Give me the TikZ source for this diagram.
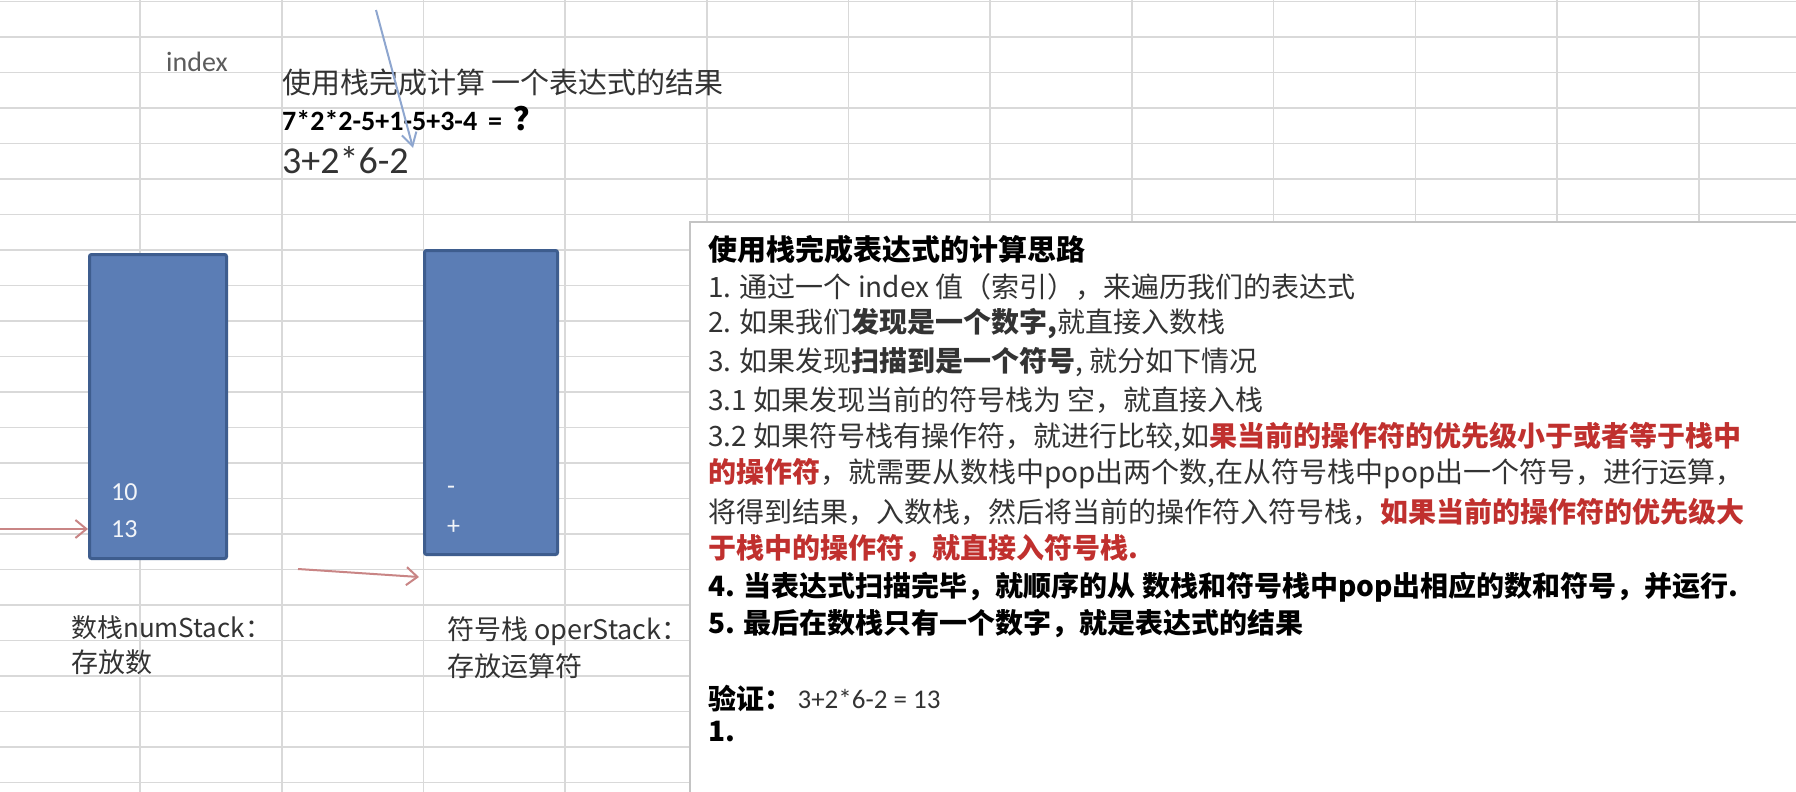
\documentclass[tikz,border=0pt]{standalone}
\usepackage{fontspec}
\setmainfont{Carlito}
\newfontfamily\cjk{Noto Sans CJK SC}
\usetikzlibrary{arrows.meta,positioning}

\definecolor{StkGrid}{HTML}{D9D9D9}
\definecolor{StkText}{HTML}{333333}
\definecolor{StkRed}{HTML}{C0302E}
\definecolor{StkFill}{HTML}{5B7DB5}
\definecolor{StkEdge}{HTML}{3E5D8E}
\definecolor{StkPink}{HTML}{C98585}
\definecolor{StkSky}{HTML}{8EA6CF}
\definecolor{StkFrame}{HTML}{C4C4C4}

\newcommand{\hot}[1]{\textcolor{StkRed}{\bfseries #1}}

\tikzset{
  stkGrid/.style={draw=StkGrid, line width=1.6pt},
  stkColumn/.style={
    rectangle, rounded corners=2pt, draw=StkEdge, fill=StkFill,
    line width=3pt, inner sep=0pt, minimum width=#1, minimum height=304pt
  },
  stkColumn/.default=137pt,
  stkNote/.style={
    rectangle, draw=StkFrame, fill=white, line width=1.5pt,
    anchor=north west, inner sep=0pt, minimum width=1200pt, minimum height=600pt
  },
  stkLine/.style={anchor=west, inner sep=0pt, text=StkText, font=\cjk\fontsize{28}{34}\selectfont},
  stkBold/.style={stkLine, text=black, font=\cjk\bfseries\fontsize{28}{34}\selectfont},
  stkLatin/.style={anchor=west, inner sep=0pt, text=StkText, font=\fontsize{#1}{#1}\selectfont},
  stkLatin/.default=28,
  stkItem/.style={anchor=west, inner sep=0pt, text=white!92!StkFill, font=\fontsize{26}{30}\selectfont},
  stkRed/.style={-{Straight Barb[length=11pt, width=18pt]}, draw=StkPink, line width=2pt},
  stkBlue/.style={-{Straight Barb[length=13pt, width=15pt]}, draw=StkSky, line width=2pt}
}

\begin{document}
\begin{tikzpicture}[x=1pt, y=-1pt]
  \clip (0,0) rectangle (1796,792);
  \fill[white] (0,0) rectangle (1796,792);

  % spreadsheet cells
  \foreach \gx in {140,281.7,...,1800} \draw[stkGrid] (\gx,0) -- (\gx,792);
  \foreach \gy in {1.5,37,...,795} \draw[stkGrid] (0,\gy) -- (1796,\gy);

  % expression on top
  \node[stkLatin, text=StkText!80] (index) at (166,62) {index};
  \node[stkLine, font=\cjk\fontsize{29}{34}\selectfont] (task) at (282,82) {使用栈完成计算 一个表达式的结果};
  \node[stkLatin=28, font=\bfseries\fontsize{28}{30}\selectfont, text=black] (expr) at (282,119) {7*2*2-5+1-5+3-4 \,=\, {\cjk\fontsize{32}{32}\selectfont ？}};
  \node[stkLatin=38] (sample) at (282,160) {3+2*6-2};

  % the two stacks
  \node[stkColumn] (numstack) at (158,406.5) {};
  \node[stkColumn=133pt] (operstack) at (491,402.5) {};
  \node[stkItem] (num10) at (111,492) {10};
  \node[stkItem] (num13) at (111,529) {13};
  \node[stkItem] (opminus) at (447,490) {-};
  \node[stkItem] (opplus) at (447,527) {+};

  \node[stkLine, font=\cjk\fontsize{26}{32}\selectfont] (numlbl) at (71,628) {数栈numStack：};
  \node[stkLine, font=\cjk\fontsize{27}{32}\selectfont] (numuse) at (71,662) {存放数};
  \node[stkLine, font=\cjk\fontsize{27}{32}\selectfont] (operlbl) at (447,631) {符号栈 operStack：};
  \node[stkLine, font=\cjk\fontsize{27}{32}\selectfont] (operuse) at (447,666) {存放运算符};

  % scan pointers
  \coordinate (numfeed) at (0,529);
  \coordinate (opfrom) at (298,569);
  \coordinate (opto) at (419,577);
  \coordinate (idxfrom) at (376,10);
  \coordinate (idxto) at (413,148);
  \draw[stkRed] (numfeed) -- (numfeed -| numstack.west);
  \draw[stkRed] (opfrom) -- (opto);
  \draw[stkBlue] (idxfrom) -- (idxto);

  % explanation box
  \node[stkNote] (note) at (689,221) {};
  \node[stkBold, font=\cjk\bfseries\fontsize{29}{34}\selectfont] (head) at (708,249) {使用栈完成表达式的计算思路};
  \node[stkLine] (step1) at (708,287) {1. 通过一个 index 值（索引），来遍历我们的表达式};
  \node[stkLine] (step2) at (708,324) {2. 如果我们\textbf{发现是一个数字,}就直接入数栈};
  \node[stkLine] (step3) at (708,362) {3. 如果发现\textbf{扫描到是一个符号}, 就分如下情况};
  \node[stkLine] (step31) at (708,400) {3.1 如果发现当前的符号栈为 空，就直接入栈};
  \node[stkLine] (step32) at (708,437) {3.2 如果符号栈有操作符，就进行比较,如\hot{果当前的操作符的优先级小于或者等于栈中}};
  \node[stkLine] (step32b) at (708,474) {\hot{的操作符}，就需要从数栈中pop出两个数,在从符号栈中pop出一个符号，进行运算，};
  \node[stkLine] (step32c) at (708,512) {将得到结果，入数栈，然后将当前的操作符入符号栈，\hot{如果当前的操作符的优先级大}};
  \node[stkLine] (step32d) at (708,549) {\hot{于栈中的操作符，就直接入符号栈.}};
  \node[stkBold] (step4) at (708,587) {4. 当表达式扫描完毕，就顺序的从 数栈和符号栈中pop出相应的数和符号，并运行.};
  \node[stkBold] (step5) at (708,624) {5. 最后在数栈只有一个数字，就是表达式的结果};
  \node[stkBold] (check) at (708,699) {验证：};
  \node[stkLatin=27, right=5pt of check] (checkexpr) {3+2*6-2 = 13};
  \node[stkBold] (check1) at (708,732) {1.};
\end{tikzpicture}
\end{document}
